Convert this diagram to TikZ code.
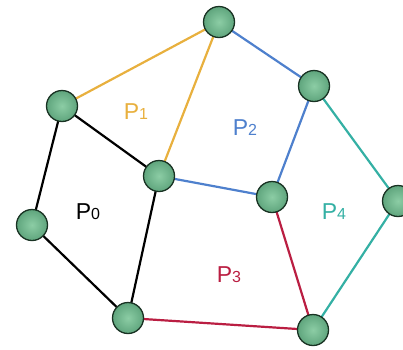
\documentclass[tikz,border=0pt]{standalone}
\usepackage{fontspec}
\setmainfont{Liberation Sans}
\begin{document}
\begin{tikzpicture}[x=1pt,y=-1pt,
  vtx/.style={circle,draw={rgb,255:red,25;green,50;blue,35},line width=1.3pt,
    inner sep=0pt,minimum size=31pt,
    inner color={rgb,255:red,140;green,205;blue,165},outer color={rgb,255:red,95;green,165;blue,125}},
  edge/.style={line width=2.2pt},
  lbl/.style={font=\fontsize{23}{23}\selectfont,inner sep=0pt},
  sub/.style={}]
\definecolor{orng}{RGB}{232,176,62}
\definecolor{blu}{RGB}{78,128,205}
\definecolor{tel}{RGB}{52,176,164}
\definecolor{rd}{RGB}{186,30,66}
\newcommand{\dg}[1]{{\fontsize{16}{16}\selectfont #1}}
\useasboundingbox (0,0) rectangle (403,349);
\coordinate (A) at (62,106);
\coordinate (B) at (219,22);
\coordinate (C) at (314,86);
\coordinate (D) at (398,201);
\coordinate (E) at (313,330);
\coordinate (F) at (128,318);
\coordinate (G) at (32,225);
\coordinate (H) at (159,176);
\coordinate (I) at (272,197);
% edges
\draw[edge,orng] (A) -- (B);
\draw[edge,orng] (B) -- (H);
\draw[edge,black] (A) -- (H);
\draw[edge,black] (A) -- (G);
\draw[edge,black] (G) -- (F);
\draw[edge,black] (F) -- (H);
\draw[edge,blu] (B) -- (C);
\draw[edge,blu] (C) -- (I);
\draw[edge,blu] (H) -- (I);
\draw[edge,rd] (I) -- (E);
\draw[edge,rd] (F) -- (E);
\draw[edge,tel] (C) -- (D);
\draw[edge,tel] (D) -- (E);
% vertices
\foreach \v in {A,B,C,D,E,F,G,H,I} \node[vtx] (n\v) at (\v) {};
% labels
\node[lbl,orng] (l1) at (136,112) {P\dg{1}};
\node[lbl,blu] (l2) at (245,128) {P\dg{2}};
\node[lbl,black] (l0) at (88,212) {P\dg{0}};
\node[lbl,tel] (l4) at (334,212) {P\dg{4}};
\node[lbl,rd] (l3) at (229,275) {P\dg{3}};
\end{tikzpicture}
\end{document}
